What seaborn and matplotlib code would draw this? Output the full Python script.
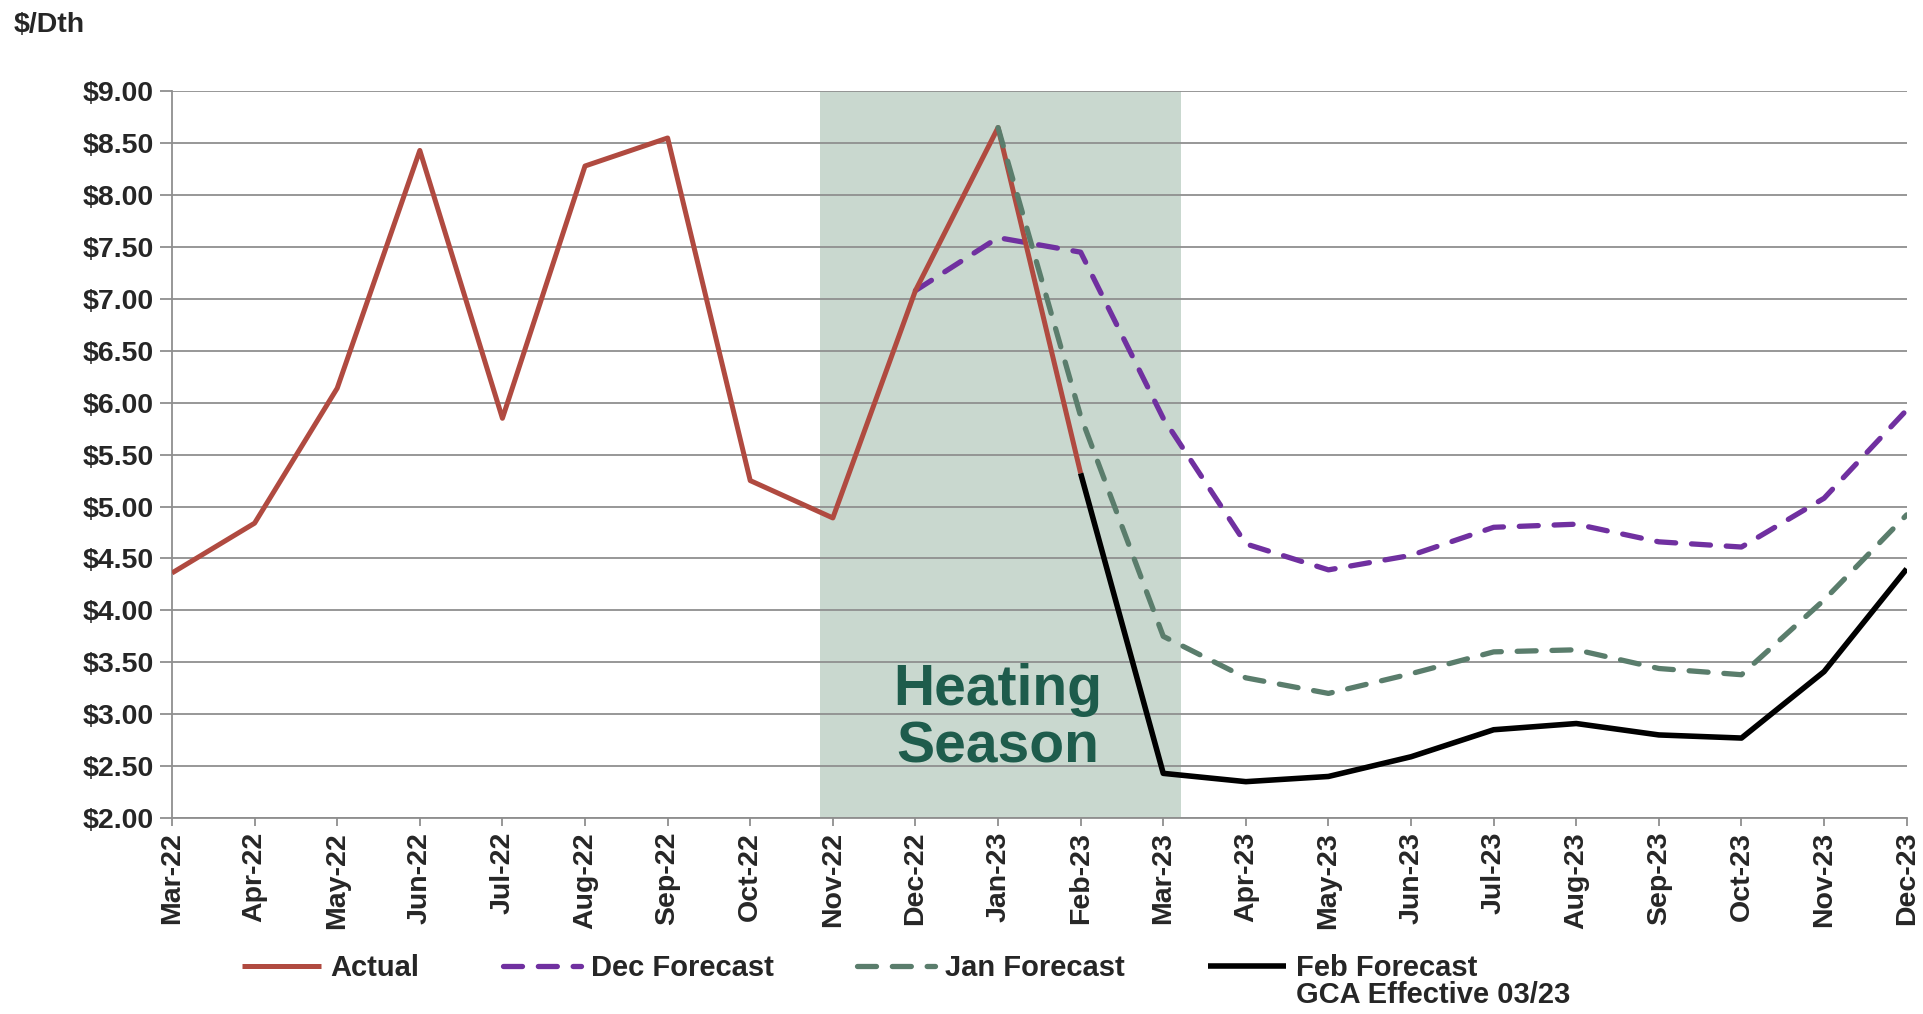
import numpy as np
import pandas as pd
import matplotlib
matplotlib.use("Agg")
import matplotlib.pyplot as plt
import seaborn as sns
from matplotlib.ticker import FuncFormatter, MultipleLocator

# ---------------- data ----------------
months = ["Mar-22", "Apr-22", "May-22", "Jun-22", "Jul-22", "Aug-22", "Sep-22",
          "Oct-22", "Nov-22", "Dec-22", "Jan-23", "Feb-23", "Mar-23", "Apr-23",
          "May-23", "Jun-23", "Jul-23", "Aug-23", "Sep-23", "Oct-23", "Nov-23",
          "Dec-23"]
nan = np.nan
actual = [4.36, 4.84, 6.14, 8.43, 5.85, 8.28, 8.55, 5.25, 4.89, 7.08, 8.65, 5.32,
          nan, nan, nan, nan, nan, nan, nan, nan, nan, nan]
dec_forecast = [nan, nan, nan, nan, nan, nan, nan, nan, nan,
                7.08, 7.59, 7.45, 5.85, 4.64, 4.39, 4.53, 4.80, 4.83, 4.66, 4.61, 5.08, 5.93]
jan_forecast = [nan, nan, nan, nan, nan, nan, nan, nan, nan, nan,
                8.65, 5.87, 3.75, 3.35, 3.20, 3.39, 3.60, 3.62, 3.44, 3.38, 4.10, 4.92]
feb_forecast = [nan, nan, nan, nan, nan, nan, nan, nan, nan, nan, nan,
                5.32, 2.43, 2.35, 2.40, 2.59, 2.85, 2.91, 2.80, 2.77, 3.41, 4.40]
series_names = ["Actual", "Dec Forecast", "Jan Forecast", "Feb Forecast"]
heating_start, heating_end = "Nov-22", "Mar-23"
y_min, y_max, y_step = 2.0, 9.0, 0.5

df = pd.DataFrame({"month": months, "idx": np.arange(len(months)),
                   "Actual": actual, "Dec Forecast": dec_forecast,
                   "Jan Forecast": jan_forecast, "Feb Forecast": feb_forecast})

# ---------------- style ----------------
sns.set_theme(style="white")
plt.rcParams["font.family"] = ["Liberation Sans", "DejaVu Sans"]
plt.rcParams["font.weight"] = "bold"

fig = plt.figure(figsize=(19.24, 10.14), dpi=100)
ax = fig.add_axes([0.0894, 0.1933, 0.9016, 0.7167])

grid_col = "#8f8f8f"
# heating season shading
x0 = months.index(heating_start) - 0.15
x1 = months.index(heating_end) + 0.22
ax.axvspan(x0, x1, color="#c9d8cf", zorder=0, lw=0)

for v in np.arange(y_min, y_max + 0.001, y_step):
    ax.axhline(v, color=grid_col, lw=1.3, zorder=0.5)

styles = {
    "Actual": dict(color="#b04a40", lw=3.6, ls="-", z=3),
    "Dec Forecast": dict(color="#7030a0", lw=3.8, ls=(0, (3.6, 3.0)), z=2),
    "Jan Forecast": dict(color="#5a7d6c", lw=3.8, ls=(0, (3.6, 3.0)), z=4),
    "Feb Forecast": dict(color="#000000", lw=4.0, ls="-", z=5),
}
for name in series_names:
    st = styles[name]
    sub = df[["idx", name]].dropna()
    sns.lineplot(data=sub, x="idx", y=name, ax=ax, color=st["color"],
                 linewidth=st["lw"], linestyle=st["ls"], label=name,
                 errorbar=None, sort=False, zorder=st["z"],
                 dash_capstyle="round", solid_capstyle="butt")

ax.text(months.index("Jan-23"), 2.96, "Heating\nSeason", ha="center", va="center",
        fontsize=41, fontweight="bold", color="#1e5c4c", linespacing=1.08, zorder=6)

ax.set_xlim(0, len(months) - 1)
ax.set_ylim(y_min, y_max)
ax.set_xticks(np.arange(len(months)))
ax.set_xticklabels(months, rotation=90, fontsize=20.5, fontweight="bold")
ax.yaxis.set_major_locator(MultipleLocator(y_step))
ax.yaxis.set_major_formatter(FuncFormatter(lambda v, p: f"${v:.2f}"))
for lab in ax.get_yticklabels():
    lab.set_fontweight("bold")
ax.tick_params(axis="y", labelsize=20.5, length=9, width=1.3, color=grid_col, pad=4,
               left=True)
ax.tick_params(axis="x", length=6, width=1.3, color=grid_col, pad=4, bottom=True)
ax.set_xlabel("")
ax.set_ylabel("")
for s in ["top", "right"]:
    ax.spines[s].set_visible(False)
for s in ["left", "bottom"]:
    ax.spines[s].set_color(grid_col)
    ax.spines[s].set_linewidth(1.3)

fig.text(0.007, 0.988, "$/Dth", fontsize=20.5, fontweight="bold", ha="left", va="top")

handles, labels = ax.get_legend_handles_labels()
if ax.get_legend() is not None:
    ax.get_legend().remove()
leg = fig.legend(handles, labels, loc="center left", bbox_to_anchor=(0.126, 0.045),
                 ncol=4, frameon=False, prop={"size": 21, "weight": "bold"},
                 handlelength=2.7, handletextpad=0.32, columnspacing=2.85,
                 borderpad=0, borderaxespad=0)
fig.canvas.draw()
bb = leg.get_texts()[3].get_window_extent()
W, H = fig.bbox.width, fig.bbox.height
fig.text(bb.x0 / W, bb.y0 / H + 0.001, "GCA Effective 03/23", fontsize=21,
         fontweight="bold", ha="left", va="top")

fig.savefig("out.png", dpi=100)
